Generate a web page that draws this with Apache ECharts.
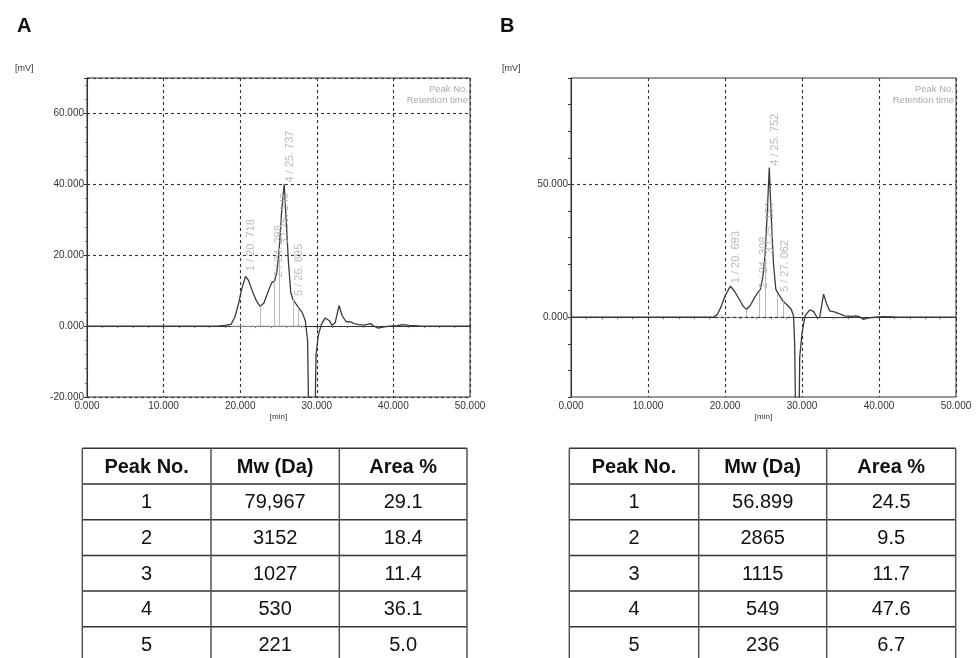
<!DOCTYPE html>
<html><head><meta charset="utf-8">
<script src="https://cdn.jsdelivr.net/npm/echarts@6/dist/echarts.min.js"></script>
<style>html,body{margin:0;padding:0;background:#fff;}#c{width:976px;height:658px;}</style>
</head><body><div id="c"></div>
<script>
// ---- data ----
const xTicks = [0, 10, 20, 30, 40, 50];
const traceA = [[0,0],[17,0],[18,0.2],[18.8,0.5],[19.3,2.5],[19.8,6.5],[20.2,10.5],[20.7,14],[21.1,12.8],[21.6,9.8],[22.1,7.2],[22.6,5.6],[23.1,6.5],[23.6,9.5],[24.1,12.2],[24.5,12.8],[24.8,15.5],[25.1,22],[25.4,32],[25.74,40],[26.0,30],[26.3,18],[26.6,9.5],[26.9,7.4],[27.3,6.2],[27.7,5.0],[28.1,3.8],[28.5,1.5],[28.8,-4],[29.0,-35],[29.7,-35],[29.9,-8],[30.2,-2.5],[30.6,0.5],[31.1,2.3],[31.6,1.6],[32.0,0.2],[32.4,1.0],[32.9,5.8],[33.3,3.0],[33.8,1.3],[34.5,1.1],[35.0,0.6],[35.5,0.4],[36.2,0.3],[37.0,0.7],[37.4,0.1],[38.0,-0.6],[38.6,-0.3],[39.5,0],[40.5,0.1],[41.2,0.4],[42.0,0.2],[42.8,0.1],[43.6,0],[50,0]];
const traceB = [[0,0],[18.5,0],[19.0,1.0],[19.5,4.0],[20.0,8.0],[20.7,11.7],[21.3,9.5],[21.9,6.5],[22.4,4.0],[22.8,2.9],[23.3,4.5],[23.8,7.2],[24.3,9.5],[24.6,10.5],[24.9,15],[25.2,23],[25.5,40],[25.75,56.3],[26.0,38],[26.3,20],[26.6,10.5],[27.0,8.5],[27.5,6.2],[28.0,4.8],[28.6,3.0],[28.9,0.5],[29.05,-10],[29.2,-45],[29.6,-45],[29.7,-15],[30.0,-6],[30.4,0.5],[31.0,2.8],[31.5,2.2],[32.0,-0.3],[32.3,0],[32.8,8.7],[33.2,5.0],[33.6,2.4],[34.2,2.0],[34.8,1.4],[35.5,0.5],[36.5,0.3],[37.0,0.5],[37.5,0.1],[38.0,-0.8],[38.5,-0.3],[39.5,0],[40.5,0.2],[42.0,0.1],[44.0,0],[50,0]];
const intBaseA = [[18.8,0],[28.3,0]];
const intBaseB = [[18.8,0],[28.6,0]];
const dropA = [[22.6,5.6],[24.5,12.8],[25.1,22],[26.9,7.4],[27.6,5.2]];
const dropB = [[22.8,2.9],[24.5,10.0],[25.2,23],[26.8,8.6],[27.6,6.0]];
const peaksA = [[20.718,15.5,'1 / 20. 718'],[24.298,13.8,'2 / 24. 298'],[25.148,23,'3 / 25. 148'],[25.737,40.5,'4 / 25. 737'],[26.895,8.5,'5 / 26. 895']];
const peaksB = [[20.693,12.8,'1 / 20. 693'],[24.308,10.8,'2 / 24. 308'],[25.150,24,'3 / 25. 150'],[25.752,57,'4 / 25. 752'],[27.062,9.5,'5 / 27. 062']];
const gridLinesB = [0, 50];
const headers = ['Peak No.', 'Mw (Da)', 'Area %'];
const peakNo = ['1', '2', '3', '4', '5'];
const mwA = ['79,967', '3152', '1027', '530', '221'];
const areaA = ['29.1', '18.4', '11.4', '36.1', '5.0'];
const mwB = ['56.899', '2865', '1115', '549', '236'];
const areaB = ['24.5', '9.5', '11.7', '47.6', '6.7'];

// ---- chart ----
const FF = '"Liberation Sans", Arial, sans-serif';
const DOT = {type: [3, 3], color: '#333', width: 1.1};
const chart = echarts.init(document.getElementById('c'), null, {renderer: 'canvas'});

function xAxis(gi) {
  return {
    gridIndex: gi, type: 'value', min: xTicks[0], max: xTicks[xTicks.length - 1], interval: 10,
    axisLine: {lineStyle: {color: '#333', width: 1}},
    axisTick: {length: 3, lineStyle: {color: '#333'}},
    minorTick: {show: true, splitNumber: 5, length: 2, lineStyle: {color: '#777'}},
    axisLabel: {formatter: v => v.toFixed(3), fontSize: 10, color: '#333', margin: 4, fontFamily: FF},
    splitLine: {show: true, lineStyle: DOT},
    minorSplitLine: {show: false},
    name: '[min]', nameLocation: 'middle', nameGap: 16,
    nameTextStyle: {fontSize: 8, color: '#333', fontFamily: FF}
  };
}

function table(x0, cols, top, rowH, mw, area) {
  const els = [];
  const xs = [x0].concat(cols);
  const nRows = 6;
  const bottom = top + rowH * nRows;
  for (let i = 0; i <= nRows; i++) {
    const y = top + rowH * i;
    els.push({type: 'line', shape: {x1: xs[0], y1: y, x2: xs[3], y2: y}, style: {stroke: '#333', lineWidth: 1.5}, silent: true});
  }
  xs.forEach(x => els.push({type: 'line', shape: {x1: x, y1: top, x2: x, y2: bottom}, style: {stroke: '#555', lineWidth: 1.5}, silent: true}));
  const rows = [headers].concat(peakNo.map((p, i) => [p, mw[i], area[i]]));
  rows.forEach((r, ri) => {
    r.forEach((t, ci) => {
      els.push({type: 'text', x: (xs[ci] + xs[ci + 1]) / 2, y: top + rowH * ri + rowH / 2 + 1,
        style: {text: t, fill: '#111', font: (ri === 0 ? 'bold ' : '') + '20px ' + FF, align: 'center', verticalAlign: 'middle'}, silent: true});
    });
  });
  return els;
}

function peakLabelSeries(xi, data) {
  return {
    type: 'scatter', xAxisIndex: xi, yAxisIndex: xi, symbolSize: 0, silent: true, z: 5,
    data: data.map(d => ({value: [d[0], d[1]], name: d[2]})),
    label: {show: true, position: 'inside', rotate: 90, align: 'left', verticalAlign: 'top',
      formatter: p => p.name, color: '#aaa', fontSize: 11, fontFamily: FF}
  };
}

function dropSeries(xi, base, drops) {
  return {
    type: 'line', xAxisIndex: xi, yAxisIndex: xi, data: base, symbol: 'none', silent: true,
    lineStyle: {color: '#bbb', width: 1}, z: 2,
    markLine: {silent: true, symbol: 'none', label: {show: false}, lineStyle: {color: '#bbb', width: 1, type: 'solid'},
      data: drops.map(d => [{coord: [d[0], 0]}, {coord: [d[0], d[1]]}])}
  };
}

const option = {
  animation: false,
  backgroundColor: '#fff',
  grid: [
    {left: 87, top: 78, width: 383, height: 319, show: true, borderColor: '#333', borderWidth: 1, backgroundColor: 'transparent'},
    {left: 571, top: 78, width: 385, height: 319, show: true, borderColor: '#333', borderWidth: 1, backgroundColor: 'transparent'}
  ],
  xAxis: [xAxis(0), xAxis(1)],
  yAxis: [
    {gridIndex: 0, type: 'value', min: -20, max: 70, interval: 20,
      axisLine: {show: true, lineStyle: {color: '#333'}},
      axisTick: {show: true, length: 3, lineStyle: {color: '#333'}},
      minorTick: {show: true, splitNumber: 5, length: 2, lineStyle: {color: '#777'}},
      axisLabel: {formatter: v => (v % 20 === 0 ? v.toFixed(3) : ''), fontSize: 10, color: '#333', margin: 3, fontFamily: FF},
      splitLine: {show: true, lineStyle: DOT}},
    {gridIndex: 1, type: 'value', min: -30, max: 90, interval: 10,
      axisLine: {show: true, lineStyle: {color: '#333'}},
      axisTick: {show: true, length: 3, lineStyle: {color: '#333'}},
      axisLabel: {formatter: v => (gridLinesB.indexOf(v) >= 0 ? v.toFixed(3) : ''), fontSize: 10, color: '#333', margin: 3, fontFamily: FF},
      splitLine: {show: false}}
  ],
  series: [
    dropSeries(0, intBaseA, dropA),
    {type: 'line', xAxisIndex: 0, yAxisIndex: 0, data: traceA, symbol: 'none', silent: true, clip: true,
      lineStyle: {color: '#3a3a3a', width: 1.3}, z: 3},
    peakLabelSeries(0, peaksA),
    dropSeries(1, intBaseB, dropB),
    {type: 'line', xAxisIndex: 1, yAxisIndex: 1, data: traceB, symbol: 'none', silent: true, clip: true,
      lineStyle: {color: '#3a3a3a', width: 1.3}, z: 3,
      markLine: {silent: true, symbol: 'none', label: {show: false}, lineStyle: DOT,
        data: gridLinesB.map(v => ({yAxis: v}))}},
    peakLabelSeries(1, peaksB)
  ],
  graphic: [
    {type: 'text', left: 17, top: 16, style: {text: 'A', font: 'bold 20px ' + FF, fill: '#111'}},
    {type: 'text', left: 500, top: 16, style: {text: 'B', font: 'bold 20px ' + FF, fill: '#111'}},
    {type: 'text', left: 15, top: 64, style: {text: '[mV]', font: '9px ' + FF, fill: '#333'}},
    {type: 'text', left: 502, top: 64, style: {text: '[mV]', font: '9px ' + FF, fill: '#333'}},
    {type: 'text', x: 468, y: 84, style: {text: 'Peak No.', font: '9.5px ' + FF, fill: '#aaa', align: 'right'}},
    {type: 'text', x: 468, y: 95, style: {text: 'Retention time', font: '9.5px ' + FF, fill: '#aaa', align: 'right'}},
    {type: 'text', x: 954, y: 84, style: {text: 'Peak No.', font: '9.5px ' + FF, fill: '#aaa', align: 'right'}},
    {type: 'text', x: 954, y: 95, style: {text: 'Retention time', font: '9.5px ' + FF, fill: '#aaa', align: 'right'}}
  ].concat(table(82.3, [211, 339.3, 467], 448.3, 35.7, mwA, areaA))
   .concat(table(569.3, [698.7, 826.7, 955.7], 448.3, 35.7, mwB, areaB))
};
chart.setOption(option);
</script>
</body></html>
